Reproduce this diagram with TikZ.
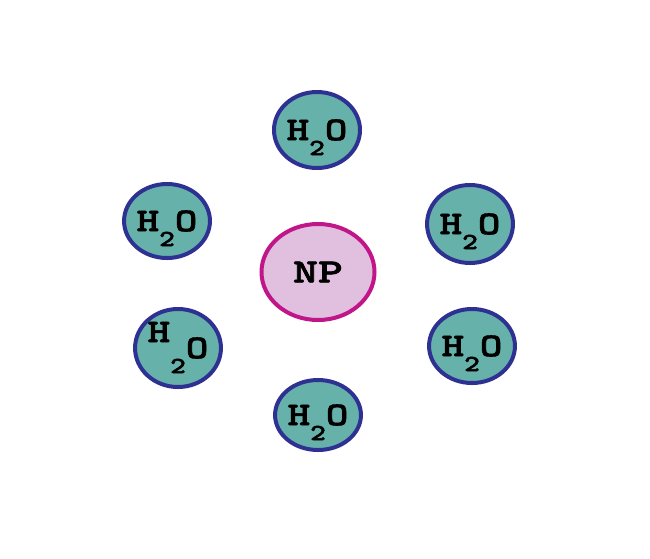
\documentclass[tikz,border=0pt]{standalone}
\usepackage{fontspec}
\newfontfamily\typebold{lmmonolt10-bold}[Extension=.otf,FakeStretch=1.3,FakeBold=2]
\newfontfamily\typewide{lmmonolt10-bold}[Extension=.otf,FakeStretch=1.4,FakeBold=2]
\usetikzlibrary{shapes.geometric}
\definecolor{watergreen}{HTML}{66B2AA}
\definecolor{waterblue}{HTML}{2E3192}
\definecolor{npfill}{HTML}{E0C0DE}
\definecolor{npborder}{HTML}{C0168A}
% subscript 2 hanging below, taking no room
\newcommand{\subtwo}{\raisebox{-15pt}[0pt][0pt]{\fontsize{23}{23}\selectfont 2}}
\newcommand{\water}{H\subtwo O}

\begin{document}
\begin{tikzpicture}[x=1pt,y=-1pt,
water/.style={
	% The shape:
	ellipse,inner sep=0pt,
	% The size:
	minimum width=84pt,minimum height=76pt,
	% The border:
	line width=4pt,draw=waterblue,
	% The filling:
	fill=watergreen,
	% Font
	font=\typebold\fontsize{33}{33}\selectfont},
particle/.style={
	% The shape:
	ellipse,inner sep=0pt,minimum width=113pt,minimum height=96pt,
	% The rest
	line width=4pt,draw=npborder,fill=npfill,
	font=\typewide\fontsize{34}{34}\selectfont}]
\useasboundingbox (0,0) rectangle (650,558);

% The particle in the middle
\node (np) [particle] at (318,272) {NP};

% The water molecules round it
\node (top) [water,minimum width=86pt] at (317,130) {\water};
\node (upleft) [water,minimum height=74pt] at (167,221) {\water};
\node (upright) [water,minimum height=78pt] at (470,224) {\water};
\node (lowleft) [water,minimum width=82pt,minimum height=78pt] at (178,348)
	{\raisebox{16pt}[0pt][0pt]{H}\subtwo O};
\node (lowright) [water,minimum height=74pt] at (472,346) {\water};
\node (bottom) [water,minimum height=70pt] at (318,415) {\water};

\end{tikzpicture}
\end{document}
